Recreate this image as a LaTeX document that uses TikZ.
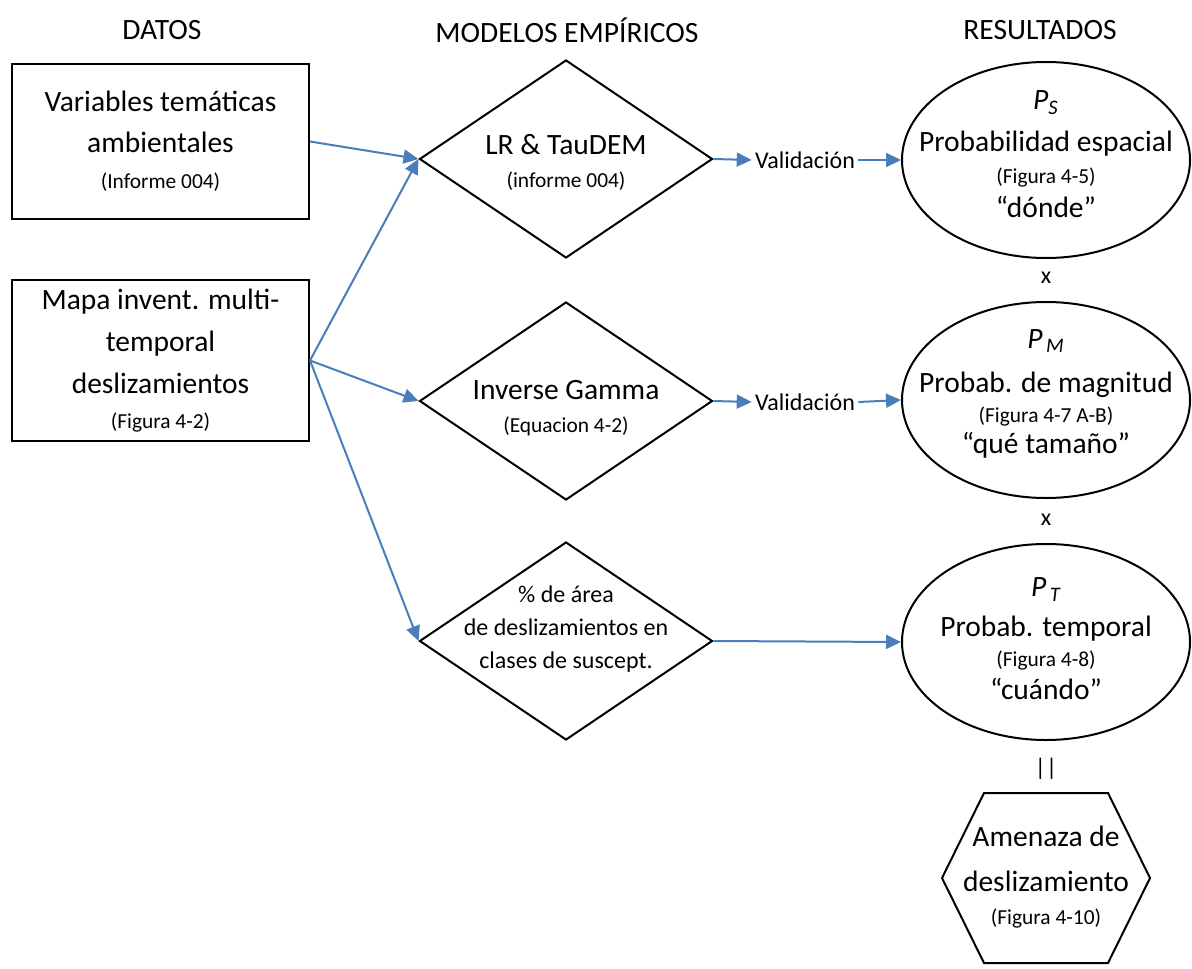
\documentclass[tikz,border=0pt]{standalone}
\usepackage{fontspec}
\setmainfont{Carlito}
\usepackage{xcolor}
\usepackage{tikz}
\usetikzlibrary{shapes.geometric, arrows.meta, positioning, calc}
\definecolor{flowblue}{RGB}{74,126,187}
\newcommand{\bigtxt}{\fontsize{14.75}{21}\selectfont}
\newcommand{\medtxt}{\fontsize{12}{16.5}\selectfont}
\newcommand{\smalltxt}{\fontsize{10.7}{16}\selectfont}

\begin{document}
\begin{tikzpicture}[x=0.5pt,y=-0.5pt,
                    data node/.style={rectangle,draw,line width=1pt,minimum width=148.5pt,minimum height=77pt,inner sep=0pt,align=center,font=\bigtxt},
                    model node/.style={diamond,draw,line width=1pt,minimum width=146.5pt,minimum height=99pt,inner sep=0pt},
                    result node/.style={ellipse,draw,line width=1pt,minimum width=144pt,minimum height=98pt,inner sep=0pt},
                    inner text/.style={align=center,font=\bigtxt,inner sep=0pt},
                    flow/.style={-{Triangle[length=7.5pt,width=7pt]},draw=flowblue,line width=1pt}]
\useasboundingbox (0,0) rectangle (1192,968);

%HEADERS
  \node[font=\bigtxt] (datos) at (162,30) {DATOS};
  \node[font=\bigtxt] (modelos) at (567,30) {MODELOS EMPÍRICOS};
  \node[font=\bigtxt] (resultados) at (1040,30) {RESULTADOS};

%DATA BOXES
  \node[data node] (var) at (160.5,141.5) {Variables temáticas\\[-0.5pt]ambientales\\[-3pt]{\smalltxt (Informe 004)}};
  \node[data node,minimum height=80.5pt] (mapa) at (160.5,360.5) {Mapa invent. multi-\\temporal\\deslizamientos\\[-3.5pt]{\smalltxt (Figura 4-2)}};

%EMPIRICAL MODELS
  \node[model node] (lr) at (566,159) {};
  \node[inner text] (lrText) at (566,162) {LR \& TauDEM\\[-4.5pt]{\smalltxt (informe 004)}};
  \node[model node] (gamma) at (566,401) {};
  \node[inner text] (gammaText) at (566,408) {Inverse Gamma\\[-4.5pt]{\smalltxt (Equacion 4-2)}};
  \node[model node] (area) at (566,641) {};
  \node[inner text,font=\medtxt] (areaText) at (566,629) {\% de área\\de deslizamientos en\\clases de suscept.};

%RESULTS
  \node[result node] (ps) at (1046,160) {};
  \node[inner text] (psText) at (1046,154.5) {{\itshape P\textsubscript{S}}\\Probabilidad espacial\\[-5pt]{\smalltxt (Figura 4-5)}\\[-4pt]“dónde”};
  \node[result node] (pm) at (1046,400) {};
  \node[inner text] (pmText) at (1046,394) {{\itshape P\textsubscript{\,M}}\\[1pt]Probab. de magnitud\\[-6pt]{\smalltxt (Figura 4-7 A-B)}\\[-5.5pt]“qué tamaño”};
  \node[result node] (pt) at (1046,642) {};
  \node[inner text] (ptText) at (1046,639) {{\itshape P\textsubscript{\,T}}\\[-1pt]Probab. temporal\\[-6pt]{\smalltxt (Figura 4-8)}\\[-4.5pt]“cuándo”};

  \node[font=\medtxt] (times1) at (1046,278) {x};
  \node[font=\medtxt] (times2) at (1046,520) {x};
  \node[font=\medtxt] (equals) at (1046,769) {||};

%HAZARD HEXAGON
  \node[inner text] (amenaza) at (1046,877) {Amenaza de\\[1.5pt]deslizamiento\\[-4.5pt]{\smalltxt (Figura 4-10)}};
  \draw[line width=1pt] ($(amenaza)+(-62,-84)$) -- ($(amenaza)+(62,-84)$) -- ($(amenaza)+(104,1)$)
   -- ($(amenaza)+(62,86)$) -- ($(amenaza)+(-62,86)$) -- ($(amenaza)+(-104,1)$) -- cycle;

%VALIDATION LABELS
  \node[font=\medtxt,inner sep=1.5pt] (val1) at (805,160) {Validación};
  \node[font=\medtxt,inner sep=1.5pt] (val2) at (805,402) {Validación};

%ARROWS
  \draw[flow] (var.east) -- (lr.west);
  \draw[flow] (mapa.east) -- (lr.west);
  \draw[flow] (mapa.east) -- (gamma.west);
  \draw[flow] (mapa.east) -- (area.west);
  \draw[flow] (lr.east) -- (val1.west);
  \draw[flow] (val1.east) -- (ps.west);
  \draw[flow] (gamma.east) -- (val2.west);
  \draw[flow] (val2.east) -- (pm.west);
  \draw[flow] (area.east) -- (pt.west);

\end{tikzpicture}
\end{document}
